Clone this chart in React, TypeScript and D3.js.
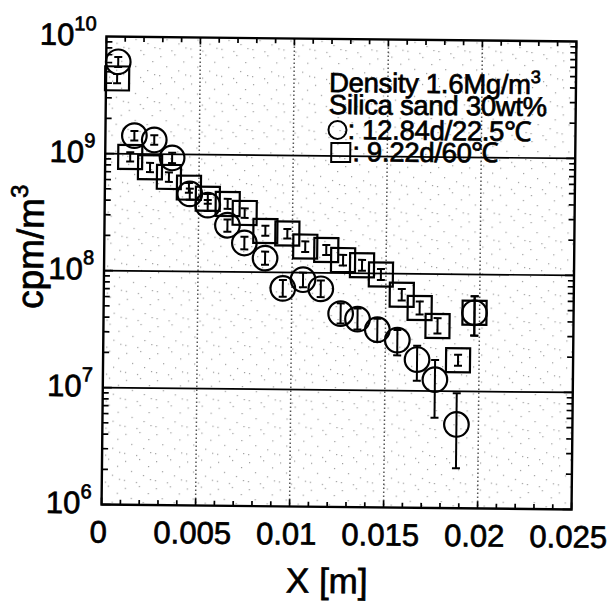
import { useEffect, useRef } from 'react'
import * as d3 from 'd3'

// [x (m), value, lower, upper]
const circles12d = [
  [0.00064, 6.1e9, 5.5e9, 6.7e9],
  [0.00154, 1.43e9, 1.3e9, 1.57e9],
  [0.0026, 1.32e9, 1.2e9, 1.45e9],
  [0.00356, 9.3e8, 8.4e8, 1.03e9],
  [0.00452, 4.6e8, 4.1e8, 5.1e8],
  [0.00548, 3.7e8, 3.3e8, 4.1e8],
  [0.00654, 2.5e8, 2.2e8, 2.8e8],
  [0.00745, 1.77e8, 1.56e8, 2.0e8],
  [0.00856, 1.32e8, 1.16e8, 1.5e8],
  [0.00952, 7.3e7, 6.2e7, 8.6e7],
  [0.01059, 8.7e7, 7.5e7, 1.0e8],
  [0.01154, 7.3e7, 6.2e7, 8.6e7],
  [0.01261, 4.5e7, 3.7e7, 5.5e7],
  [0.01351, 4.05e7, 3.3e7, 5.0e7],
  [0.01457, 3.3e7, 2.6e7, 4.1e7],
  [0.01564, 2.7e7, 2.0e7, 3.3e7],
  [0.0167, 1.85e7, 1.22e7, 2.43e7],
  [0.01766, 1.25e7, 5.9e6, 1.84e7],
  [0.01883, 5.2e6, 2.2e6, 9.6e6],
  [0.01973, 4.7e7, 3.0e7, 6.5e7],
]

const squares9d = [
  [0.00059, 4.4e9, 4.0e9, 4.8e9],
  [0.00133, 9.4e8, 8.6e8, 1.03e9],
  [0.00239, 7.7e8, 7.0e8, 8.4e8],
  [0.0034, 6.4e8, 5.8e8, 7.0e8],
  [0.00447, 5.2e8, 4.7e8, 5.7e8],
  [0.00548, 4.2e8, 3.8e8, 4.6e8],
  [0.00654, 3.8e8, 3.45e8, 4.2e8],
  [0.00745, 3.2e8, 2.9e8, 3.5e8],
  [0.00856, 2.25e8, 2.05e8, 2.5e8],
  [0.00973, 2.15e8, 1.95e8, 2.35e8],
  [0.01069, 1.67e8, 1.5e8, 1.85e8],
  [0.01181, 1.57e8, 1.42e8, 1.73e8],
  [0.01271, 1.29e8, 1.16e8, 1.43e8],
  [0.01372, 1.17e8, 1.05e8, 1.3e8],
  [0.01473, 9.8e7, 8.8e7, 1.09e8],
  [0.01585, 6.6e7, 5.9e7, 7.4e7],
  [0.01681, 5.1e7, 4.5e7, 5.8e7],
  [0.01777, 3.6e7, 3.1e7, 4.2e7],
  [0.01888, 1.84e7, 1.65e7, 2.05e7],
  [0.01973, 4.7e7, 3.0e7, 6.5e7],
]

const xTicks = [0, 0.005, 0.01, 0.015, 0.02, 0.025]
const xTickLabels = ['0', '0.005', '0.01', '0.015', '0.02', '0.025']
const yExponents = [6, 7, 8, 9, 10]
const legendLines = ['Density 1.6Mg/m', 'Silica sand 30wt%', ': 12.84d/22.5℃', ': 9.22d/60℃']

const FONT = '"Liberation Sans", Arial, Helvetica, sans-serif'

function App() {
  const ref = useRef<SVGSVGElement>(null)

  useEffect(() => {
    const width = 609,
      height = 601,
      left = 104,
      right = 574,
      top = 39,
      bottom = 507

    const x = d3.scaleLinear().domain([0, 0.025]).range([left, right])
    const y = d3.scaleLog().domain([1e6, 1e10]).range([bottom, top])

    const svg = d3.select(ref.current)
    svg.selectAll('*').remove()
    svg.attr('width', width).attr('height', height)

    // scanned stipple
    const pat = svg
      .append('defs')
      .append('pattern')
      .attr('id', 'stip')
      .attr('patternUnits', 'userSpaceOnUse')
      .attr('width', 31)
      .attr('height', 27)
    const dots = [
      [3, 4], [17, 2], [26, 9], [9, 14], [21, 18], [2, 23], [14, 25], [28, 22],
    ]
    pat
      .selectAll('rect')
      .data(dots)
      .enter()
      .append('rect')
      .attr('x', (d) => d[0])
      .attr('y', (d) => d[1])
      .attr('width', 1.2)
      .attr('height', 1.2)
      .attr('fill', '#9a9a9a')

    svg.append('rect').attr('width', width).attr('height', height).attr('fill', '#fff')

    const g = svg.append('g').attr('transform', 'rotate(0.6, 339, 273)')

    g.append('rect')
      .attr('x', left)
      .attr('y', top)
      .attr('width', right - left)
      .attr('height', bottom - top)
      .attr('fill', 'url(#stip)')

    // grid
    g.selectAll('.vgrid')
      .data(xTicks.slice(1, -1))
      .enter()
      .append('line')
      .attr('x1', (d) => x(d))
      .attr('x2', (d) => x(d))
      .attr('y1', top)
      .attr('y2', bottom)
      .attr('stroke', '#555')
      .attr('stroke-width', 1.5)
      .attr('stroke-dasharray', '1.5,2.5')

    g.selectAll('.hgrid')
      .data(yExponents.slice(1, -1))
      .enter()
      .append('line')
      .attr('x1', left)
      .attr('x2', right)
      .attr('y1', (d) => y(Math.pow(10, d)))
      .attr('y2', (d) => y(Math.pow(10, d)))
      .attr('stroke', '#000')
      .attr('stroke-width', 1.7)

    // ticks
    const xMinor = d3.range(0, 26).map((i) => i * 0.001)
    const tickG = g.append('g').attr('stroke', '#000').attr('stroke-width', 1.7)
    xMinor.forEach((v, i) => {
      const len = i % 5 === 0 ? 7 : 5
      tickG.append('line').attr('x1', x(v)).attr('x2', x(v)).attr('y1', bottom).attr('y2', bottom - len)
      tickG.append('line').attr('x1', x(v)).attr('x2', x(v)).attr('y1', top).attr('y2', top + len)
    })
    const yMinor: number[] = []
    for (let e = 6; e < 10; e++) for (let k = 1; k < 10; k++) yMinor.push(k * Math.pow(10, e))
    yMinor.forEach((v) => {
      const len = Math.log10(v) % 1 === 0 ? 9 : 6
      tickG.append('line').attr('x1', left).attr('x2', left + len).attr('y1', y(v)).attr('y2', y(v))
      tickG.append('line').attr('x1', right).attr('x2', right - len).attr('y1', y(v)).attr('y2', y(v))
    })

    // frame
    g.append('rect')
      .attr('x', left)
      .attr('y', top)
      .attr('width', right - left)
      .attr('height', bottom - top)
      .attr('fill', 'none')
      .attr('stroke', '#000')
      .attr('stroke-width', 2.4)

    // error bars
    const errG = g.append('g').attr('stroke', '#000').attr('stroke-width', 2)
    const drawErr = (data: number[][]) => {
      data.forEach((d) => {
        const cx = x(d[0])
        errG.append('line').attr('x1', cx).attr('x2', cx).attr('y1', y(d[2])).attr('y2', y(d[3]))
        errG.append('line').attr('x1', cx - 4).attr('x2', cx + 4).attr('y1', y(d[2])).attr('y2', y(d[2]))
        errG.append('line').attr('x1', cx - 4).attr('x2', cx + 4).attr('y1', y(d[3])).attr('y2', y(d[3]))
      })
    }
    drawErr(squares9d)
    drawErr(circles12d)

    // markers
    const sq = 24
    g.selectAll('.sq')
      .data(squares9d)
      .enter()
      .append('rect')
      .attr('x', (d) => x(d[0]) - sq / 2)
      .attr('y', (d) => y(d[1]) - sq / 2)
      .attr('width', sq)
      .attr('height', sq)
      .attr('fill', 'none')
      .attr('stroke', '#000')
      .attr('stroke-width', 2.2)

    g.selectAll('.ci')
      .data(circles12d)
      .enter()
      .append('circle')
      .attr('cx', (d) => x(d[0]))
      .attr('cy', (d) => y(d[1]))
      .attr('r', 12.3)
      .attr('fill', 'none')
      .attr('stroke', '#000')
      .attr('stroke-width', 2.2)

    const heavy = (sel: any) => sel.attr('stroke', '#000').attr('stroke-width', 0.7).attr('fill', '#000')

    // x tick labels
    g.selectAll('.xl')
      .data(xTicks)
      .enter()
      .append('text')
      .attr('x', (d) => x(d) - 3)
      .attr('y', bottom + 38)
      .attr('text-anchor', 'middle')
      .attr('font-family', FONT)
      .attr('font-size', 31)
      .call(heavy)
      .text((d, i) => xTickLabels[i])

    // y tick labels
    const yl = g
      .selectAll('.yl')
      .data(yExponents)
      .enter()
      .append('text')
      .attr('x', left - 10)
      .attr('y', (d) => y(Math.pow(10, d)) + 9)
      .attr('text-anchor', 'end')
      .attr('font-family', FONT)
      .attr('font-size', 31)
      .call(heavy)
    yl.append('tspan').text('10')
    yl.append('tspan')
      .attr('dy', -15)
      .attr('font-size', 20)
      .text((d) => String(d))

    // axis titles
    g.append('text')
      .attr('x', 330)
      .attr('y', 593)
      .attr('text-anchor', 'middle')
      .attr('font-family', FONT)
      .attr('font-size', 35)
      .call(heavy)
      .text('X [m]')

    const yt = g
      .append('text')
      .attr('transform', 'translate(43, 250) rotate(-90)')
      .attr('text-anchor', 'middle')
      .attr('font-family', FONT)
      .attr('font-size', 37)
      .call(heavy)
    yt.append('tspan').text('cpm/m')
    yt.append('tspan').attr('dy', -16).attr('font-size', 24).text('3')

    // legend
    const lx = 327
    const lys = [92, 114, 139, 161]
    legendLines.forEach((t, i) => {
      const tx = g
        .append('text')
        .attr('x', i === 2 ? lx + 19 : i === 3 ? lx + 24 : lx)
        .attr('y', lys[i])
        .attr('font-family', FONT)
        .attr('font-size', 27.5)
        .attr('letter-spacing', -0.3)
        .call(heavy)
      tx.append('tspan').text(t)
      if (i === 0) tx.append('tspan').attr('dy', -11).attr('font-size', 18).text('3')
    })
    g.append('circle')
      .attr('cx', lx + 9)
      .attr('cy', lys[2] - 9)
      .attr('r', 9)
      .attr('fill', 'none')
      .attr('stroke', '#000')
      .attr('stroke-width', 2)
    g.append('rect')
      .attr('x', lx + 3)
      .attr('y', lys[3] - 18)
      .attr('width', 19)
      .attr('height', 19)
      .attr('fill', 'none')
      .attr('stroke', '#000')
      .attr('stroke-width', 2)
  }, [])

  return <svg ref={ref} style={{ position: 'absolute', left: 0, top: 0 }}></svg>
}

export default App
